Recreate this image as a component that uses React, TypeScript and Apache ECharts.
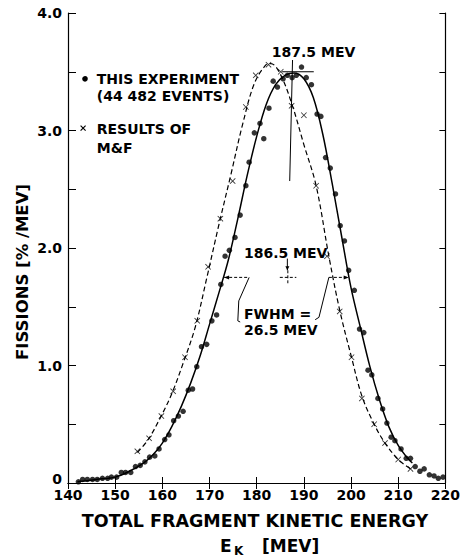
import React, { useEffect, useRef } from 'react';
import * as echarts from 'echarts';

// ---- data ----
const expEnergy = [142.2, 143.1, 144.1, 145.2, 146.2, 147.3, 148.4, 149.2, 150.3, 151.3, 152.2, 153.3, 154.3, 155.3, 156.3, 157.3, 158.4, 159.3, 160.5, 161.4, 162.4, 163.4, 164.4, 165.5, 166.4, 167.3, 168.3, 169.4, 170.5, 171.5, 172.4, 173.3, 174.2, 175.4, 176.5, 177.7, 178.4, 179.5, 180.7, 181.5, 182.6, 183.5, 184.4, 185.6, 186.5, 187.5, 188.4, 189.5, 190.5, 191.6, 192.8, 193.6, 194.6, 195.6, 196.7, 197.7, 198.6, 199.5, 200.7, 201.8, 202.7, 203.6, 204.4, 205.7, 206.7, 207.6, 208.5, 209.3, 210.6, 211.7, 212.6, 213.6, 214.6, 215.5, 216.6, 217.6, 218.5, 219.5];
const expFission = [0.01, 0.03, 0.03, 0.03, 0.03, 0.04, 0.04, 0.05, 0.05, 0.09, 0.09, 0.09, 0.14, 0.15, 0.18, 0.22, 0.23, 0.29, 0.37, 0.41, 0.53, 0.57, 0.61, 0.79, 0.80, 0.99, 1.16, 1.18, 1.38, 1.43, 1.69, 1.93, 1.98, 2.09, 2.28, 2.53, 2.73, 2.98, 3.06, 2.93, 3.19, 3.42, 3.37, 3.44, 3.47, 3.45, 3.47, 3.54, 3.45, 3.39, 3.14, 3.12, 2.77, 2.68, 2.46, 2.19, 2.06, 1.81, 1.64, 1.31, 1.28, 0.96, 0.92, 0.72, 0.63, 0.51, 0.39, 0.36, 0.29, 0.21, 0.21, 0.14, 0.10, 0.12, 0.07, 0.06, 0.04, 0.05];

const mfEnergy = [154.7, 157.2, 159.8, 162.3, 164.8, 167.4, 169.7, 172.3, 174.9, 177.7, 179.8, 182.5, 185.1, 187.4, 190.0, 192.6, 194.9, 197.6, 200.1, 202.3, 204.9, 207.2, 210.0, 212.6];
const mfFission = [0.27, 0.38, 0.57, 0.78, 1.07, 1.38, 1.84, 2.25, 2.57, 3.20, 3.47, 3.56, 3.50, 3.21, 3.13, 2.53, 1.93, 1.46, 1.07, 0.72, 0.50, 0.34, 0.20, 0.12];

const expFitEnergy = [142, 146, 150, 153, 156, 158, 160, 162, 164, 166, 168, 170, 172, 174, 176, 178, 180, 182, 184, 186, 188, 190, 192, 194, 196, 198, 200, 202, 204, 206, 208, 210, 212, 213];
const expFitValue = [0.01, 0.03, 0.05, 0.10, 0.17, 0.24, 0.34, 0.48, 0.65, 0.85, 1.08, 1.35, 1.62, 1.90, 2.25, 2.62, 2.95, 3.22, 3.39, 3.47, 3.49, 3.44, 3.28, 2.97, 2.55, 2.10, 1.66, 1.32, 0.99, 0.71, 0.48, 0.32, 0.21, 0.17];

const mfFitEnergy = [154.7, 157, 159.5, 162, 164.5, 167, 169.5, 172, 174.5, 177, 179.5, 182, 183, 185, 187.5, 190, 192.6, 195.3, 197.6, 200.1, 202.3, 204.9, 207.2, 210, 212.6];
const mfFitValue = [0.26, 0.37, 0.55, 0.76, 1.03, 1.33, 1.76, 2.20, 2.62, 3.05, 3.40, 3.56, 3.57, 3.48, 3.22, 2.88, 2.53, 1.93, 1.47, 1.07, 0.74, 0.50, 0.34, 0.20, 0.12];

const yTickLabels = ['{z|0}', '', '1.0', '', '2.0', '', '3.0', '', '4.0'];

const FONT = 'DejaVu Sans';

export default function App() {
  const ref = useRef<HTMLDivElement>(null);
  useEffect(() => {
    if (!ref.current) return;
    const chart = echarts.init(ref.current, null, { renderer: 'svg' });
    const axisCommon = {
      type: 'value' as const,
      axisLine: { show: true, lineStyle: { color: '#000', width: 1.2 } },
      axisTick: { show: true, inside: true, length: 6, lineStyle: { color: '#000', width: 1 } },
      splitLine: { show: false },
    };
    const zip = (a: number[], b: number[]) => a.map((v, i) => [v, b[i]]);
    chart.setOption({
      animation: false,
      grid: { left: 68, right: 16, top: 13, bottom: 77 },
      xAxis: [
        {
          ...axisCommon, min: 140, max: 220, interval: 10, position: 'bottom',
          axisLabel: { color: '#000', fontFamily: FONT, fontWeight: 'bold', fontSize: 14, margin: 5 },
        },
        {
          ...axisCommon, min: 140, max: 220, interval: 10, position: 'top',
          axisLabel: { show: false },
        },
      ],
      yAxis: [
        {
          ...axisCommon, min: 0, max: 4, interval: 0.5, position: 'left',
          axisTick: { show: true, inside: true, length: 8, lineStyle: { color: '#000', width: 1 } },
          axisLabel: {
            color: '#000', fontFamily: FONT, fontWeight: 'bold', fontSize: 14, margin: 6,
            formatter: (v: number) => yTickLabels[Math.round(v / 0.5)] ?? '',
            rich: { z: { fontFamily: FONT, fontWeight: 'bold', fontSize: 14, color: '#000', padding: [0, 0, 8, 0] } },
          },
        },
        {
          ...axisCommon, min: 0, max: 4, interval: 0.5, position: 'right',
          axisLabel: { show: false },
        },
      ],
      series: [
        {
          type: 'line', data: zip(expFitEnergy, expFitValue), smooth: 0.35, showSymbol: false,
          lineStyle: { color: '#000', width: 1.5 }, silent: true,
        },
        {
          type: 'line', data: zip(mfFitEnergy, mfFitValue), smooth: 0.35, showSymbol: false,
          lineStyle: { color: '#000', width: 1.2, type: [5, 3] }, silent: true,
        },
        {
          type: 'scatter', data: zip(expEnergy, expFission), symbol: 'circle', symbolSize: 5.5,
          itemStyle: { color: '#000' },
        },
        {
          type: 'scatter', data: zip(mfEnergy, mfFission),
          symbol: 'path://M0,1L1,0L5,4L9,0L10,1L6,5L10,9L9,10L5,6L1,10L0,9L4,5Z', symbolSize: 6,
          itemStyle: { color: '#000' },
        },
      ],
    });

    const p = (x: number, y: number) => chart.convertToPixel({ xAxisIndex: 0, yAxisIndex: 0 }, [x, y]) as number[];
    const txt = (x: number, y: number, text: string, size: number, align = 'left', extra: any = {}) => ({
      type: 'text', x, y, ...extra,
      style: { text, fill: '#000', font: `bold ${size}px "${FONT}"`, textAlign: align, textVerticalAlign: 'middle' },
    });
    const line = (a: number[], b: number[], dashed = false, w = 1) => ({
      type: 'line', shape: { x1: a[0], y1: a[1], x2: b[0], y2: b[1] },
      style: { stroke: '#000', lineWidth: w, lineDash: dashed ? [3, 2] : null },
    });
    const poly = (pts: number[][]) => ({
      type: 'polyline', shape: { points: pts }, style: { stroke: '#000', lineWidth: 1, fill: null },
    });
    const tri = (pts: number[][]) => ({
      type: 'polygon', shape: { points: pts }, style: { fill: '#000', stroke: null },
    });

    // legend
    const dot = p(143.6, 3.44);
    const xm = p(143.2, 3.02);
    const legText = 146.1;
    // peak annotation
    const peakH1 = p(185.4, 3.50), peakH2 = p(192.1, 3.50);
    const peakV1 = p(187.6, 3.60), peakV2 = p(187.0, 2.57);
    const peakLbl = p(183.2, 3.67);
    // 186.5 annotation
    const midLbl = p(177.3, 1.96);
    const arrTop = p(186.5, 1.91), arrBot = p(186.5, 1.81);
    const chH1 = p(184.9, 1.75), chH2 = p(188.4, 1.75);
    const chV1 = p(186.6, 1.81), chV2 = p(186.6, 1.70);
    // FWHM bracket
    const lA = p(173.1, 1.75), lB = p(178.4, 1.75);
    const lC = p(176.2, 1.55), lD = p(176.0, 1.38), lE = p(176.5, 1.37);
    const rA = p(195.3, 1.75), rB = p(199.5, 1.75);
    const rC = p(193.2, 1.41), rD = p(192.4, 1.39);
    const fw1 = p(177.3, 1.44), fw2 = p(177.3, 1.30);

    chart.setOption({
      graphic: [
        { type: 'circle', shape: { cx: dot[0], cy: dot[1], r: 2.8 }, style: { fill: '#000' } },
        txt(p(legText, 0)[0], dot[1], 'THIS EXPERIMENT', 14),
        txt(p(legText, 0)[0], p(0, 3.29)[1], '(44 482 EVENTS)', 14),
        line([xm[0] - 2.5, xm[1] - 2.5], [xm[0] + 2.5, xm[1] + 2.5], false, 1.2),
        line([xm[0] - 2.5, xm[1] + 2.5], [xm[0] + 2.5, xm[1] - 2.5], false, 1.2),
        txt(p(legText, 0)[0], p(0, 3.01)[1], 'RESULTS OF', 14),
        txt(p(legText, 0)[0], p(0, 2.85)[1], 'M&F', 14),
        // peak
        txt(peakLbl[0], peakLbl[1], '187.5 MEV', 14),
        line(peakH1, peakH2),
        line(peakV1, peakV2),
        // 186.5
        txt(midLbl[0], midLbl[1], '186.5 MEV', 14),
        line(arrTop, arrBot),
        tri([[arrBot[0] - 2, arrBot[1] - 4], [arrBot[0] + 2, arrBot[1] - 4], [arrBot[0], arrBot[1]]]),
        line(chH1, chH2, true),
        line(chV1, chV2, true),
        // FWHM
        line(lA, lB, true),
        tri([[lA[0], lA[1]], [lA[0] + 5, lA[1] - 2], [lA[0] + 5, lA[1] + 2]]),
        poly([lB, lC, lD, lE]),
        line(rA, rB, true),
        tri([[rB[0], rB[1]], [rB[0] - 5, rB[1] - 2], [rB[0] - 5, rB[1] + 2]]),
        poly([rA, rC, rD]),
        txt(fw1[0], fw1[1], 'FWHM =', 14),
        txt(fw2[0], fw2[1], '26.5 MEV', 14),
        // axis titles
        txt(255, 521, 'TOTAL FRAGMENT KINETIC ENERGY', 17.5, 'center'),
        txt(220, 546, 'E', 17),
        txt(234, 551, 'K', 12),
        txt(262, 546, '[MEV]', 17),
        txt(22, 272, 'FISSIONS [% /MEV]', 16.5, 'center', { rotation: Math.PI / 2 }),
      ],
    });
    return () => chart.dispose();
  }, []);
  return <div ref={ref} style={{ width: 463, height: 560, position: 'absolute', left: 0, top: 0, background: '#fff' }} />;
}
